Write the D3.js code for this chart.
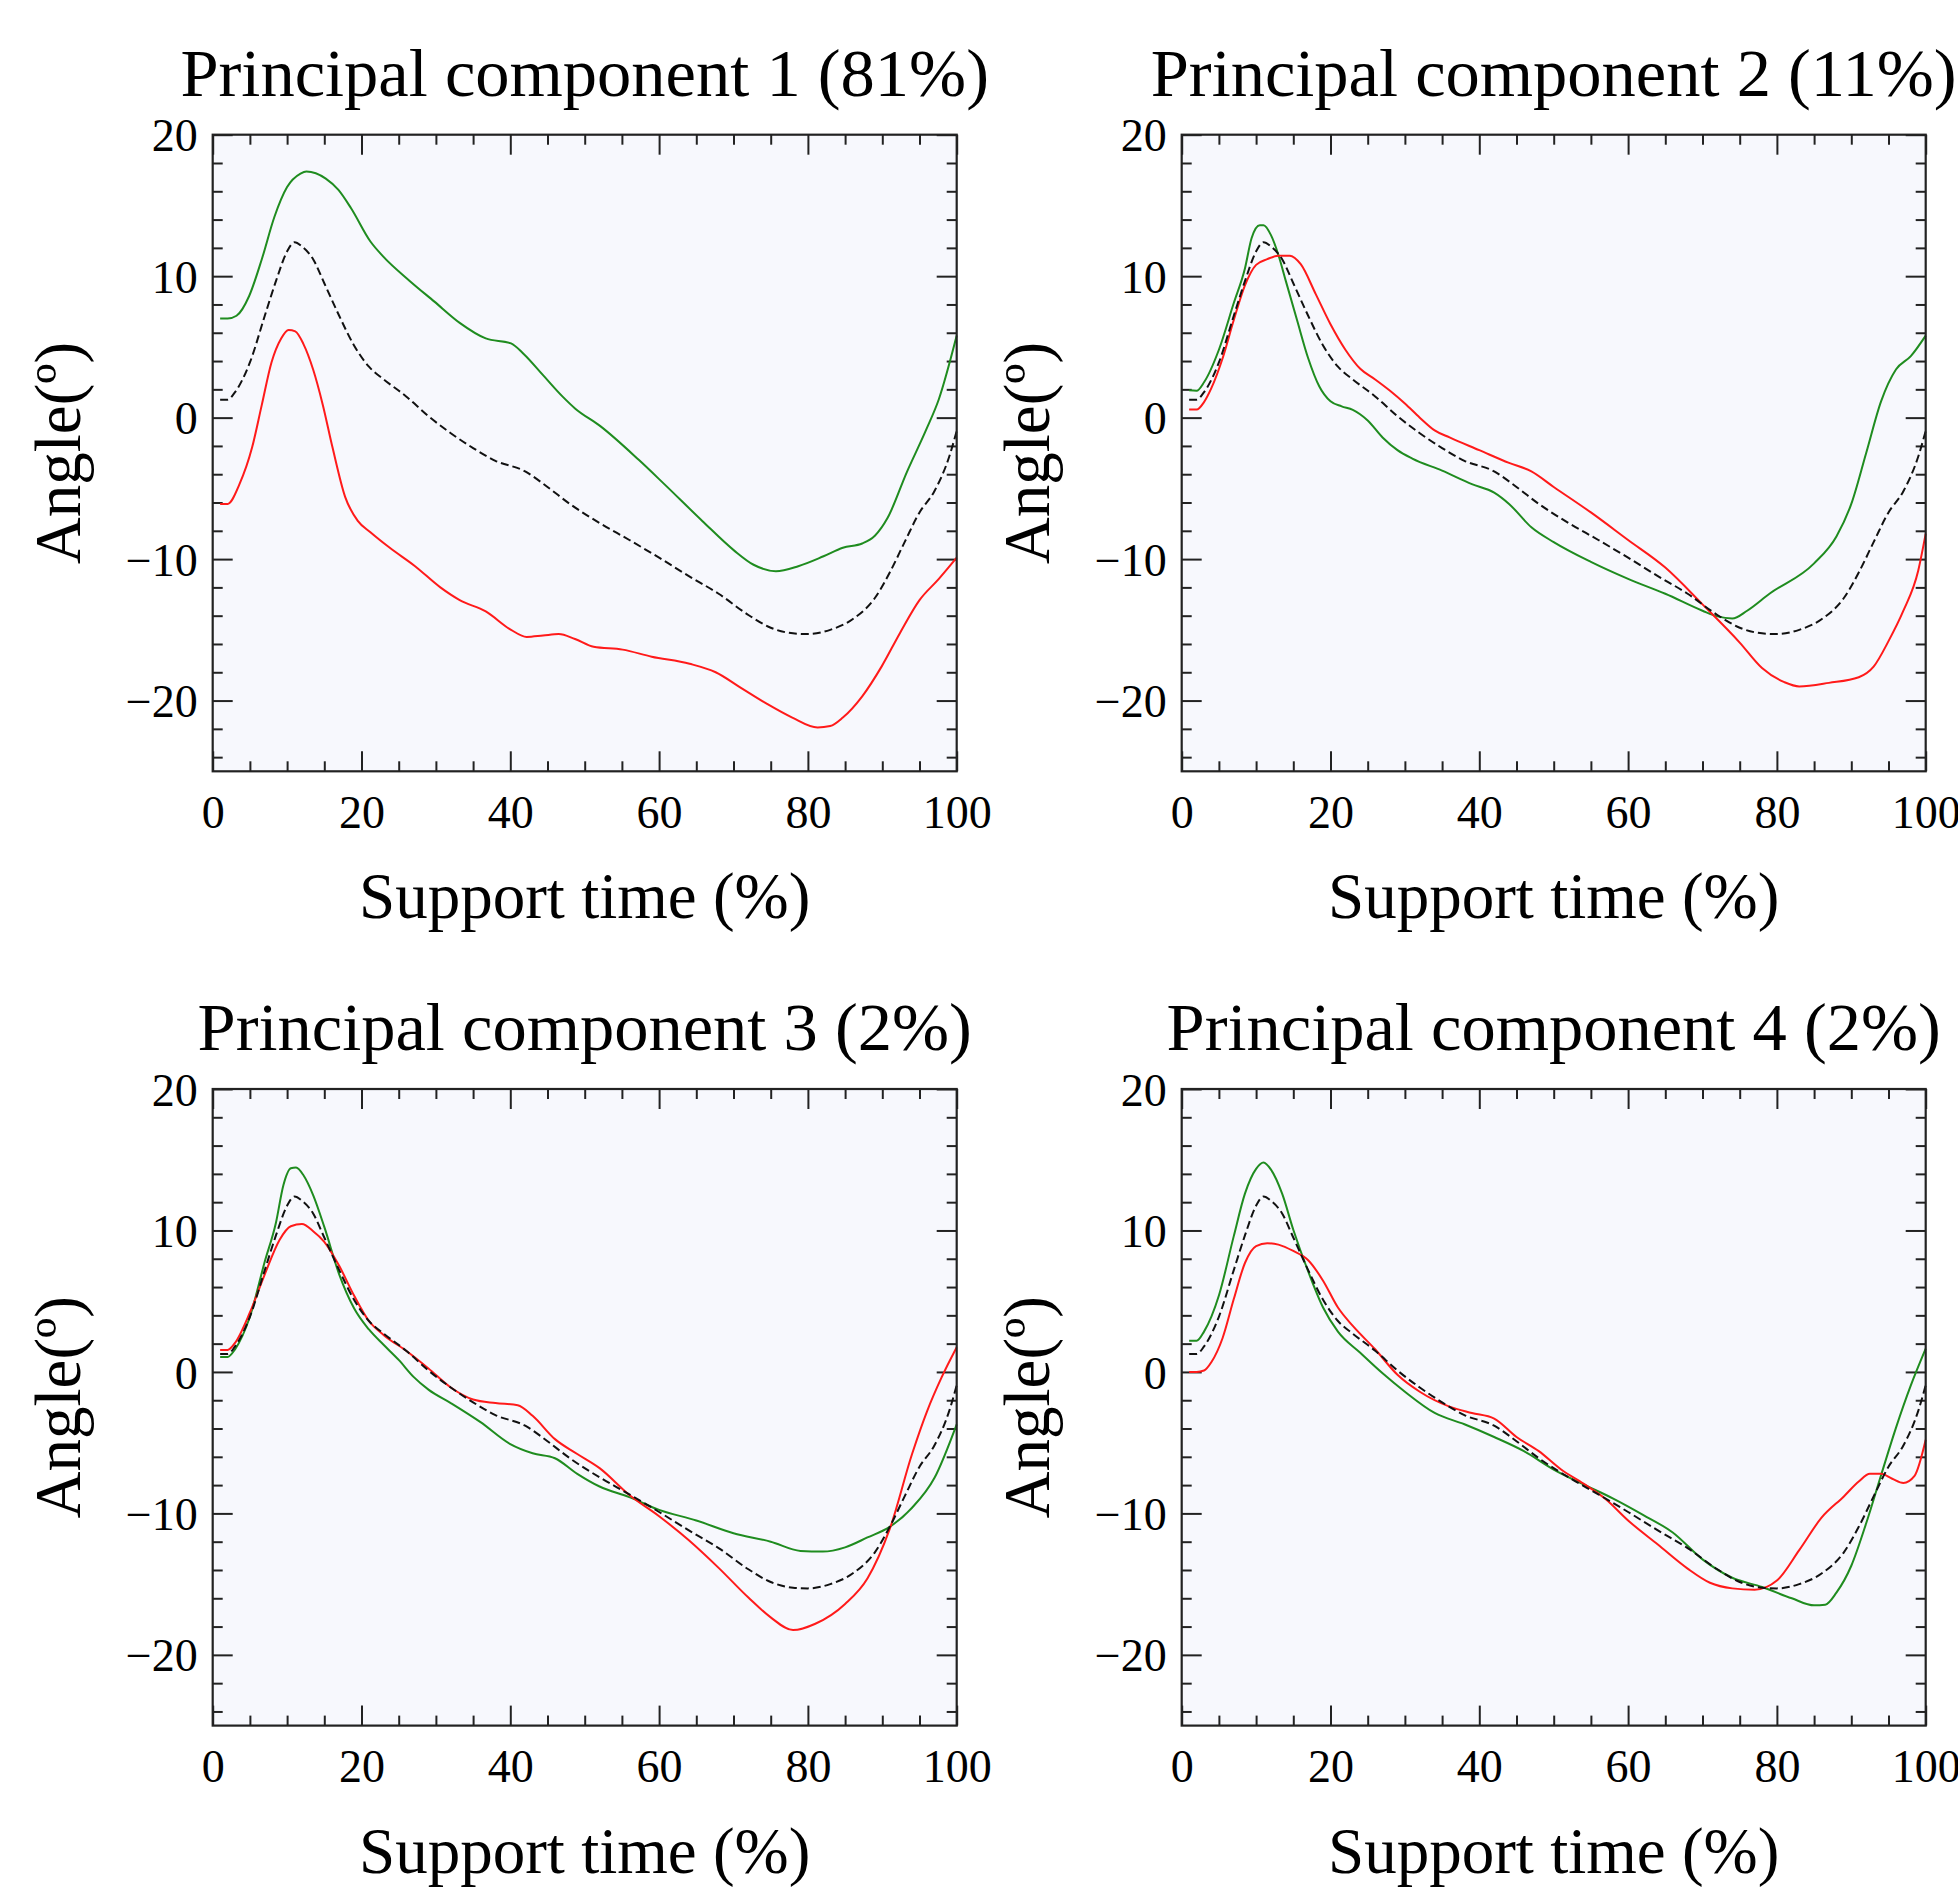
<!DOCTYPE html>
<html>
<head>
<meta charset="utf-8">
<script src="https://cdn.jsdelivr.net/npm/d3@7"></script>
<style>
body { margin: 0; background: #fff; }
text { font-family: "Liberation Serif", "Times New Roman", serif; fill: #000; }
</style>
</head>
<body>
<svg id="chart" width="1958" height="1887"></svg>
<script>
// values: [support time %, angle deg]
var titles = ["Principal component 1 (81%)", "Principal component 2 (11%)",
	"Principal component 3 (2%)", "Principal component 4 (2%)"];
var xTicks = [0, 20, 40, 60, 80, 100];
var yTicks = [-20, -10, 0, 10, 20];

// mean curve, same in every panel
var meanCurve = [[1,1.27],[2,1.27],[3,1.8],[5,3.9],[7,7.2],[8.5,9.65],[10,11.75],[11,12.4],[12,12.1],
	[13.5,11.2],[15,9.5],[17,7.2],[19,5.1],[21,3.6],[23,2.7],[26,1.5],[29,0.1],[32,-1.1],[35,-2.15],
	[38,-3.05],[42,-3.8],[45,-4.9],[48,-6.1],[52,-7.45],[56,-8.65],[60,-9.9],[64,-11.2],[68,-12.45],
	[72,-13.95],[75,-14.85],[78,-15.25],[80,-15.3],[83,-15.0],[86,-14.25],[89,-12.75],[91,-10.95],
	[93,-8.8],[95,-6.7],[97,-5.2],[99,-2.75],[100,-0.95]];

var pc1Green = [[1,7.0],[2,7.0],[3.2,7.2],[4.9,8.6],[6.6,11.2],[8.3,14.2],[10,16.3],[11.8,17.25],[12.6,17.4],
	[15.2,16.9],[16.9,16.1],[18.6,14.8],[21.2,12.45],[22.9,11.4],[26.4,9.7],[29.8,8.2],[33.2,6.7],
	[36.7,5.6],[40.1,5.25],[41.8,4.5],[44.4,3.0],[47,1.5],[48.7,0.65],[52.1,-0.6],[57.3,-3.0],
	[60.7,-4.7],[65.8,-7.3],[70.1,-9.4],[72.7,-10.4],[75.7,-10.85],[78.7,-10.5],[82.1,-9.8],
	[84.7,-9.2],[87.3,-8.9],[89,-8.35],[90.7,-7.1],[93.3,-3.85],[95.9,-0.85],[97.6,1.3],[100,5.8]];
var pc1Red = [[1,-6.1],[2,-6.1],[3.6,-4.7],[5.3,-2.1],[6.6,0.9],[7.9,3.9],[9.2,5.6],[10.2,6.2],[11.1,6.1],
	[12.2,5.2],[13.5,3.4],[14.8,0.9],[16.1,-2.1],[17.8,-5.6],[19.5,-7.3],[21.2,-8.1],[23.8,-9.2],
	[27.2,-10.5],[30.6,-12.0],[33.2,-12.9],[36.7,-13.7],[40.1,-15.0],[42.2,-15.5],[44.4,-15.4],
	[46.5,-15.3],[48.7,-15.65],[51.2,-16.2],[55.1,-16.4],[59,-16.9],[64.1,-17.4],[67.6,-18.0],
	[71,-19.1],[74.4,-20.2],[77.9,-21.2],[81.3,-21.9],[83,-21.8],[84.7,-21.2],[87.3,-19.7],
	[89.9,-17.6],[92.4,-15.2],[95,-12.9],[97.6,-11.4],[100,-9.9]];

var pc2Green = [[1,1.93],[2,1.9],[3,2.5],[5,4.8],[7,8.1],[8.5,10.55],[9.4,12.7],[10.5,13.6],[11,13.6],
	[12,12.9],[13,11.5],[14,9.65],[15.5,6.9],[17,4.2],[18.5,2.2],[20,1.15],[21.5,0.8],[23,0.55],
	[25,-0.2],[27,-1.4],[29,-2.3],[31,-2.9],[35,-3.75],[39,-4.7],[42,-5.3],[44,-6.1],[47,-7.75],
	[50,-8.8],[55,-10.2],[60,-11.4],[65,-12.45],[70,-13.65],[72,-14.05],[74,-14.2],[76,-13.65],
	[79,-12.45],[85,-10.3],[88,-8.4],[90,-6.1],[92,-2.5],[94,1.15],[96,3.4],[98,4.35],[100,5.8]];
var pc2Red = [[1,0.57],[2,0.57],[3,1.1],[4,2.1],[5.5,4.2],[7,6.9],[8.5,9.35],[10,10.8],[11.5,11.2],
	[13,11.45],[14.5,11.45],[16,10.85],[18,8.75],[20,6.6],[22,4.8],[24,3.45],[26,2.7],[28,1.9],
	[30,1.0],[32,0.0],[34,-0.9],[36,-1.4],[40,-2.3],[44,-3.2],[47,-3.8],[50,-4.9],[55,-6.7],
	[60,-8.65],[65,-10.6],[70,-13.2],[75,-15.9],[78,-17.7],[81,-18.7],[83,-19.0],[87,-18.75],
	[91,-18.35],[93,-17.6],[95,-15.8],[97,-13.65],[99,-10.8],[100,-8.2]];

var pc3Green = [[1,1.06],[2,1.06],[3,1.6],[5,3.9],[7,7.8],[8.5,10.55],[9.5,13.2],[10.5,14.4],[11.2,14.45],
	[12.2,13.9],[13.5,12.5],[15,10.25],[17,6.9],[19,4.5],[21,3.0],[23,1.9],[25,0.85],[27,-0.35],
	[29,-1.25],[32,-2.2],[36,-3.55],[40,-5.1],[43,-5.75],[46,-6.1],[49,-7.2],[52,-8.1],[56,-8.85],
	[60,-9.75],[65,-10.5],[70,-11.4],[75,-12.0],[79,-12.65],[82,-12.7],[85,-12.4],[88,-11.7],
	[91,-10.95],[94,-9.6],[97,-7.5],[100,-3.7]];
var pc3Red = [[1,1.55],[2,1.55],[3,2.05],[5,4.2],[7,6.9],[9,9.35],[10.5,10.3],[12,10.45],[13.5,9.95],
	[15,9.2],[17,7.5],[19,5.4],[21,3.6],[23,2.6],[26,1.5],[29,0.25],[32,-1.1],[35,-1.95],[38,-2.2],
	[41,-2.35],[43,-3.1],[46,-4.75],[49,-5.8],[52,-6.8],[56,-8.7],[60,-10.2],[64,-11.9],[68,-13.85],
	[72,-15.95],[75,-17.35],[78,-18.25],[81,-17.8],[85,-16.4],[88,-14.6],[91,-11.1],[94,-5.8],
	[96,-2.8],[98,-0.35],[100,1.75]];

var pc4Green = [[1,2.2],[2,2.2],[3,2.85],[5,5.4],[7,9.6],[8.5,12.6],[10,14.35],[11,14.8],[12,14.3],
	[13.5,12.6],[15,10.05],[17,7.1],[19,4.55],[21,2.85],[24,1.35],[27,-0.1],[30,-1.4],[34,-2.9],
	[38,-3.7],[42,-4.6],[46,-5.6],[50,-6.9],[54,-7.95],[58,-8.95],[62,-10.1],[66,-11.35],[70,-13.25],
	[74,-14.55],[78,-15.2],[82,-16.0],[85,-16.5],[86.5,-16.45],[88,-15.6],[90,-13.7],[92,-10.7],
	[94,-7.3],[96,-3.95],[98,-0.95],[100,1.65]];
var pc4Red = [[1,0.0],[2,0.0],[3,0.1],[4,0.7],[5.5,2.4],[7,5.15],[8.5,7.7],[10,8.9],[11.5,9.1],[13,9.0],
	[15,8.55],[17,7.9],[19,6.45],[21,4.55],[23,3.25],[26,1.6],[29,-0.2],[32,-1.4],[36,-2.45],[39,-2.9],
	[42,-3.3],[45,-4.6],[48,-5.6],[51,-6.9],[54,-7.9],[57,-9.0],[60,-10.5],[64,-12.2],[68,-13.9],
	[71,-14.9],[74,-15.3],[77,-15.4],[80,-14.75],[83,-12.6],[86,-10.3],[89,-8.8],[91,-7.75],
	[92.5,-7.2],[94,-7.2],[95.5,-7.55],[97,-7.85],[98.5,-7.35],[100,-4.8]];

var panels = [
	{title: titles[0], green: pc1Green, red: pc1Red, left: 212.7, top: 134.7},
	{title: titles[1], green: pc2Green, red: pc2Red, left: 1181.7, top: 134.7},
	{title: titles[2], green: pc3Green, red: pc3Red, left: 212.7, top: 1089},
	{title: titles[3], green: pc4Green, red: pc4Red, left: 1181.7, top: 1089}
];

var W = 744, H = 636.6;
var svg = d3.select("#chart");

var x = d3.scaleLinear().domain([0, 100]).range([0, W]);
var y = d3.scaleLinear().domain([-25, 20]).range([H, 0]);

var line = d3.line()
	.x(function(d) { return x(d[0]); })
	.y(function(d) { return y(d[1]); })
	.curve(d3.curveMonotoneX);

var xMinor = d3.range(0, 101, 5).filter(function(v) { return v % 20 !== 0; });
var yMinor = d3.range(-24, 21, 2).filter(function(v) { return v % 10 !== 0; });

function styleAxis(sel, fontSize) {
	sel.select(".domain").remove();
	sel.selectAll(".tick line").attr("stroke", "#222").attr("stroke-width", 2);
	sel.selectAll(".tick text").style("font-size", fontSize + "px").attr("fill", "#000");
}

panels.forEach(function(p) {
	var g = svg.append("g").attr("transform", "translate(" + p.left + "," + p.top + ")");

	g.append("rect").attr("width", W).attr("height", H).attr("fill", "#f7f8fd");

	// major ticks with labels (inward)
	g.append("g").attr("transform", "translate(0," + H + ")")
		.call(d3.axisBottom(x).tickValues(xTicks).tickSize(-20).tickPadding(24).tickFormat(d3.format("d")))
		.call(styleAxis, 46);
	g.append("g")
		.call(d3.axisLeft(y).tickValues(yTicks).tickSize(-20).tickPadding(15).tickFormat(d3.format("d")))
		.call(styleAxis, 46)
		.selectAll(".tick text").attr("dy", "0.35em");
	g.append("g").call(d3.axisTop(x).tickValues(xTicks).tickSize(-20).tickFormat(""))
		.call(styleAxis, 0);
	g.append("g").attr("transform", "translate(" + W + ",0)")
		.call(d3.axisRight(y).tickValues(yTicks).tickSize(-20).tickFormat(""))
		.call(styleAxis, 0);

	// minor ticks
	g.append("g").attr("transform", "translate(0," + H + ")")
		.call(d3.axisBottom(x).tickValues(xMinor).tickSize(-10).tickFormat(""))
		.call(styleAxis, 0);
	g.append("g").call(d3.axisTop(x).tickValues(xMinor).tickSize(-10).tickFormat(""))
		.call(styleAxis, 0);
	g.append("g").call(d3.axisLeft(y).tickValues(yMinor).tickSize(-10).tickFormat(""))
		.call(styleAxis, 0);
	g.append("g").attr("transform", "translate(" + W + ",0)")
		.call(d3.axisRight(y).tickValues(yMinor).tickSize(-10).tickFormat(""))
		.call(styleAxis, 0);

	// curves
	g.append("path").datum(p.green).attr("d", line)
		.attr("fill", "none").attr("stroke", "#1f8c1f").attr("stroke-width", 2);
	g.append("path").datum(p.red).attr("d", line)
		.attr("fill", "none").attr("stroke", "#ff1a1a").attr("stroke-width", 2);
	g.append("path").datum(meanCurve).attr("d", line)
		.attr("fill", "none").attr("stroke", "#111").attr("stroke-width", 2)
		.attr("stroke-dasharray", "8,4");

	// frame
	g.append("rect").attr("width", W).attr("height", H)
		.attr("fill", "none").attr("stroke", "#222").attr("stroke-width", 2.2);

	// texts
	g.append("text").attr("x", W / 2).attr("y", -39).attr("text-anchor", "middle")
		.style("font-size", "68.5px").text(p.title);
	g.append("text").attr("x", W / 2).attr("y", H + 147).attr("text-anchor", "middle")
		.style("font-size", "65px").text("Support time (%)");
	g.append("text").attr("transform", "translate(-133," + (H / 2) + ") rotate(-90)")
		.attr("text-anchor", "middle").style("font-size", "65px").text("Angle(\u00ba)");
});
</script>
</body>
</html>
